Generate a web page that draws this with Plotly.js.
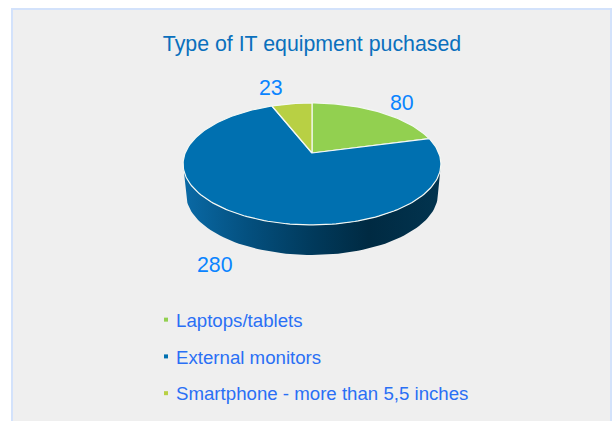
<!DOCTYPE html>
<html><head><meta charset="utf-8">
<script src="https://cdn.plot.ly/plotly-3.0.1.min.js"></script>
<style>html,body{margin:0;padding:0;background:#fff}</style></head>
<body><div id="chart" style="width:614px;height:421px"></div>
<script>
const categories = ['Laptops/tablets', 'External monitors', 'Smartphone - more than 5,5 inches'];
const values = [80, 280, 23];
const sliceColors = ['#92d050', '#0070b0', '#b8d044'];
const wallStops = [[0,'#0a6aa6'],[0.25,'#04507f'],[0.5,'#013a5c'],[0.72,'#002a42'],[1,'#02344f']];
const labelAnchors = [[402,103],[215,265],[271,88]];

const CX=312, CY=153, A=126.8, B=59, K=0.18, DEPTH=30, WALL_SCALE=0.977;
function project(theta, sx, dy){
  const u=Math.sin(theta), v=Math.cos(theta), d=1+K*v;
  return [CX+sx*A*u/d, CY+dy-B*v/d];
}
const total = values.reduce((a,b)=>a+b,0);
const traces = [];

// side wall
const t0=Math.acos(-K), t1=2*Math.PI-t0, N=80;
const wx=[], wy=[];
for(let i=0;i<=N;i++){const p=project(t0+(t1-t0)*i/N,1,0);wx.push(p[0]);wy.push(p[1]);}
for(let i=N;i>=0;i--){const p=project(t0+(t1-t0)*i/N,WALL_SCALE,DEPTH);wx.push(p[0]);wy.push(p[1]);}
wx.push(wx[0]);wy.push(wy[0]);
traces.push({type:'scatter',x:wx,y:wy,mode:'lines',line:{width:0,color:'rgba(0,0,0,0)'},fill:'toself',
  fillgradient:{type:'horizontal',colorscale:wallStops},showlegend:false,hoverinfo:'skip'});

// slices
let acc=0;
values.forEach((val,idx)=>{
  const a0=acc/total*2*Math.PI; acc+=val; const a1=acc/total*2*Math.PI;
  const x=[CX],y=[CY],n=Math.max(8,Math.round((a1-a0)*40));
  for(let i=0;i<=n;i++){const p=project(a0+(a1-a0)*i/n,1,0);x.push(p[0]);y.push(p[1]);}
  x.push(CX);y.push(CY);
  traces.push({type:'scatter',x,y,mode:'lines',line:{color:'#f4f8f4',width:1.2},fill:'toself',fillcolor:sliceColors[idx],
    showlegend:false,name:categories[idx],hoverinfo:'name'});
});

// legend entries
categories.forEach((c,idx)=>{
  traces.push({type:'scatter',x:[null],y:[null],mode:'markers',name:c,legendgroup:'g'+idx,
    marker:{symbol:'square',size:4,color:sliceColors[idx]}});
});

const annotations = values.map((v,i)=>({xref:'x',yref:'y',x:labelAnchors[i][0],y:labelAnchors[i][1],text:String(v),showarrow:false,
  xanchor:'center',yanchor:'middle',font:{family:'Liberation Sans, Arial, sans-serif',size:21.33,color:'#0a84ff'}}));

const layout = {
  width:614,height:421,margin:{l:0,r:0,t:0,b:0,autoexpand:false},paper_bgcolor:'#ffffff',plot_bgcolor:'rgba(0,0,0,0)',
  title:{text:'Type of IT equipment puchased',x:312/614,xanchor:'center',y:1-44/421,yanchor:'middle',
    font:{family:'Liberation Sans, Arial, sans-serif',size:21.33,color:'#0a70bd'}},
  xaxis:{range:[0,614],visible:false,fixedrange:true},
  yaxis:{range:[421,0],visible:false,fixedrange:true},
  shapes:[{type:'rect',layer:'below',xref:'x',yref:'y',x0:12,x1:611,y0:9,y1:440,fillcolor:'#efefef',line:{color:'#d3e2fb',width:2}}],
  annotations,
  showlegend:true,
  legend:{x:136/614,y:1-301/421,xanchor:'left',yanchor:'top',bgcolor:'rgba(0,0,0,0)',tracegroupgap:9.5,itemclick:false,
    font:{family:'Liberation Sans, Arial, sans-serif',size:18.67,color:'#2a6ff5'}}
};
Plotly.newPlot('chart',traces,layout,{displayModeBar:false,staticPlot:true}).then(()=>{
  document.querySelectorAll('.legend .legendsymbols').forEach(s=>s.setAttribute('transform','translate(10,0)'));
});
</script></body></html>
